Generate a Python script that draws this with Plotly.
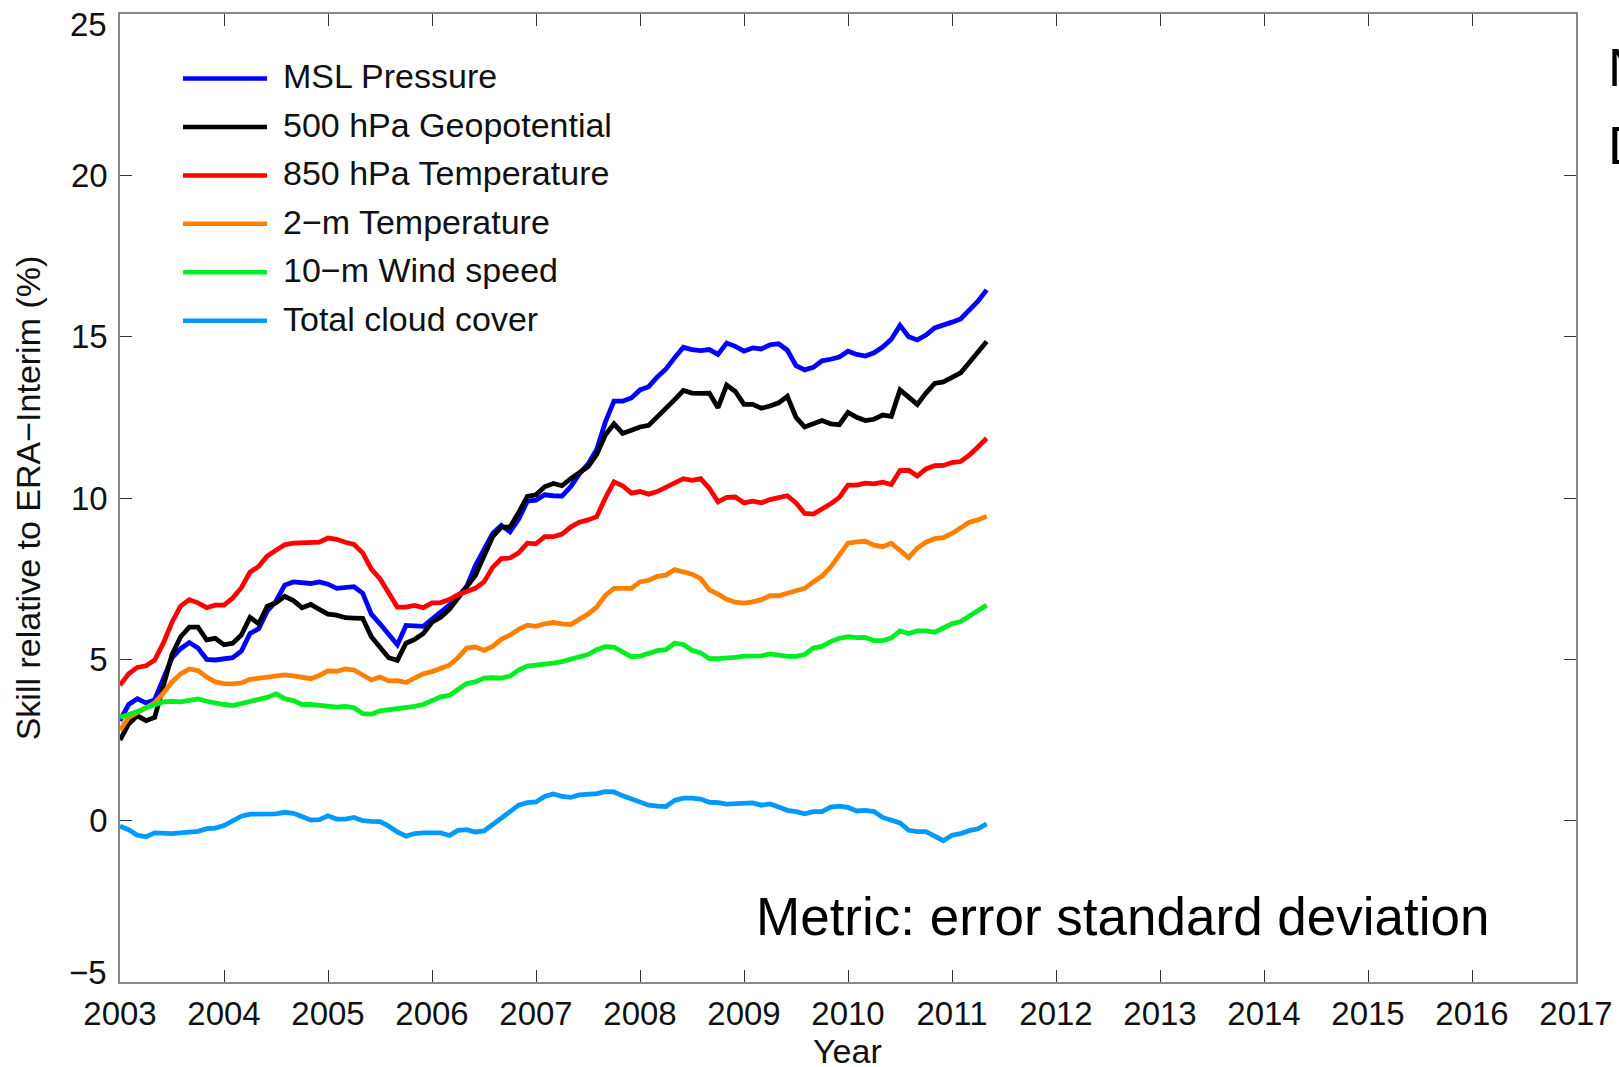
import plotly.graph_objects as go

# Monthly time axis: Jan 2003 onward, 101 months
start_year = 2003
n_months = 101
months = [start_year + i / 12 for i in range(n_months)]

series_names = [
    "MSL Pressure",
    "500 hPa Geopotential",
    "850 hPa Temperature",
    "2\u2212m Temperature",
    "10\u2212m Wind speed",
    "Total cloud cover",
]
series_colors = ["#0000ff", "#000000", "#ff0000", "#ff8000", "#00ee22", "#0099ff"]

msl_pressure = [
    3.1, 3.6, 3.78, 3.65, 3.75, 4.4, 5.05, 5.33, 5.52, 5.35, 5.0, 4.98, 5.0, 5.05, 5.25, 5.8, 5.95, 6.5, 6.8, 7.3, 7.4,
    7.37, 7.35, 7.4, 7.33, 7.2, 7.22, 7.25, 7.05, 6.4, 6.1, 5.8, 5.45, 6.05, 6.05, 6.02, 6.25, 6.45, 6.68, 6.95, 7.25,
    7.9, 8.4, 8.9, 9.15, 8.95, 9.35, 9.9, 9.93, 10.1, 10.07, 10.06, 10.35, 10.75, 11.05, 11.5, 12.35, 13.0, 13.0, 13.1, 13.35,
    13.45, 13.75, 14.0, 14.35, 14.67, 14.6, 14.57, 14.6, 14.45, 14.8, 14.7, 14.55, 14.65, 14.62, 14.75, 14.78, 14.58, 14.1, 13.97, 14.05,
    14.25, 14.3, 14.37, 14.55, 14.45, 14.4, 14.5, 14.68, 14.92, 15.35, 15.0, 14.9, 15.05, 15.27, 15.35, 15.45, 15.55, 15.8, 16.1, 16.45,
]
geopotential_500 = [
    2.5, 3.0, 3.25, 3.1, 3.2, 4.2, 5.15, 5.7, 6.0, 6.0, 5.6, 5.65, 5.45, 5.5, 5.75, 6.3, 6.1, 6.65, 6.75, 6.95, 6.82,
    6.6, 6.7, 6.55, 6.4, 6.37, 6.29, 6.28, 6.27, 5.7, 5.38, 5.05, 4.97, 5.5, 5.62, 5.8, 6.15, 6.3, 6.55, 6.9, 7.2,
    7.6, 8.2, 8.8, 9.1, 9.1, 9.55, 10.05, 10.1, 10.35, 10.45, 10.38, 10.6, 10.78, 10.97, 11.35, 11.95, 12.3, 12.0, 12.1, 12.2,
    12.25, 12.5, 12.8, 13.05, 13.33, 13.25, 13.24, 13.25, 12.8, 13.5, 13.3, 12.9, 12.9, 12.78, 12.85, 12.95, 13.15, 12.5, 12.2, 12.3,
    12.4, 12.3, 12.27, 12.65, 12.5, 12.4, 12.44, 12.57, 12.53, 13.35, 13.1, 12.9, 13.25, 13.55, 13.6, 13.75, 13.88, 14.2, 14.5, 14.85,
]
temperature_850 = [
    4.2, 4.55, 4.75, 4.8, 4.98, 5.5, 6.15, 6.65, 6.85, 6.75, 6.6, 6.68, 6.68, 6.9, 7.22, 7.7, 7.88, 8.2, 8.38, 8.55, 8.6,
    8.6, 8.6, 8.63, 8.76, 8.72, 8.63, 8.56, 8.3, 7.8, 7.5, 7.05, 6.62, 6.62, 6.67, 6.6, 6.75, 6.76, 6.85, 7.0, 7.1,
    7.2, 7.4, 7.85, 8.12, 8.14, 8.3, 8.6, 8.58, 8.8, 8.8, 8.88, 9.1, 9.25, 9.32, 9.42, 10.0, 10.5, 10.38, 10.15, 10.2,
    10.12, 10.2, 10.32, 10.45, 10.6, 10.55, 10.6, 10.3, 9.88, 10.02, 10.03, 9.85, 9.9, 9.85, 9.95, 10.01, 10.07, 9.85, 9.52, 9.5,
    9.65, 9.82, 10.02, 10.4, 10.4, 10.46, 10.44, 10.49, 10.42, 10.85, 10.86, 10.68, 10.9, 11.0, 11.01, 11.1, 11.13, 11.33, 11.58, 11.85,
]
temperature_2m = [
    2.8, 3.2, 3.35, 3.5, 3.65, 3.95, 4.3, 4.55, 4.7, 4.65, 4.45, 4.3, 4.25, 4.24, 4.27, 4.38, 4.42, 4.46, 4.5, 4.52, 4.49,
    4.45, 4.4, 4.5, 4.64, 4.63, 4.7, 4.67, 4.5, 4.36, 4.45, 4.33, 4.34, 4.28, 4.42, 4.55, 4.62, 4.72, 4.82, 5.05, 5.35,
    5.38, 5.28, 5.4, 5.62, 5.75, 5.93, 6.06, 6.02, 6.1, 6.14, 6.1, 6.08, 6.24, 6.4, 6.62, 6.98, 7.2, 7.2, 7.2, 7.4,
    7.45, 7.57, 7.61, 7.78, 7.72, 7.64, 7.5, 7.15, 7.02, 6.86, 6.77, 6.74, 6.78, 6.85, 6.97, 6.97, 7.05, 7.14, 7.2, 7.4,
    7.58, 7.86, 8.22, 8.6, 8.64, 8.66, 8.54, 8.49, 8.6, 8.35, 8.15, 8.45, 8.63, 8.74, 8.77, 8.9, 9.08, 9.25, 9.32, 9.43,
]
wind_speed_10m = [
    3.2, 3.28, 3.38, 3.5, 3.6, 3.68, 3.7, 3.68, 3.73, 3.77, 3.7, 3.64, 3.6, 3.57, 3.63, 3.67, 3.76, 3.82, 3.93, 3.78, 3.72,
    3.6, 3.6, 3.58, 3.55, 3.52, 3.54, 3.5, 3.32, 3.3, 3.4, 3.43, 3.45, 3.5, 3.54, 3.6, 3.72, 3.84, 3.88, 4.05, 4.25,
    4.3, 4.42, 4.43, 4.42, 4.48, 4.67, 4.79, 4.81, 4.86, 4.88, 4.93, 5.0, 5.07, 5.15, 5.3, 5.39, 5.38, 5.25, 5.08, 5.1,
    5.2, 5.27, 5.3, 5.5, 5.46, 5.28, 5.2, 5.02, 5.02, 5.03, 5.06, 5.1, 5.09, 5.11, 5.17, 5.12, 5.09, 5.09, 5.15, 5.35,
    5.4, 5.55, 5.65, 5.7, 5.67, 5.68, 5.58, 5.58, 5.66, 5.88, 5.8, 5.88, 5.88, 5.84, 5.98, 6.1, 6.17, 6.33, 6.5, 6.68,
]
total_cloud_cover = [
    -0.17, -0.28, -0.45, -0.5, -0.38, -0.4, -0.4, -0.38, -0.36, -0.33, -0.25, -0.23, -0.15, -0.02, 0.14, 0.2, 0.21, 0.22, 0.21, 0.26, 0.23,
    0.13, 0.02, 0.03, 0.15, 0.05, 0.05, 0.1, 0.0, -0.02, -0.03, -0.17, -0.35, -0.48, -0.4, -0.38, -0.39, -0.38, -0.46, -0.3, -0.28,
    -0.35, -0.32, -0.12, 0.08, 0.3, 0.48, 0.56, 0.58, 0.75, 0.83, 0.75, 0.72, 0.8, 0.81, 0.84, 0.9, 0.89, 0.77, 0.67, 0.57,
    0.48, 0.45, 0.44, 0.63, 0.7, 0.7, 0.67, 0.57, 0.56, 0.51, 0.52, 0.53, 0.55, 0.48, 0.52, 0.42, 0.32, 0.28, 0.21, 0.28,
    0.28, 0.42, 0.45, 0.41, 0.3, 0.32, 0.28, 0.1, 0.03, -0.07, -0.3, -0.34, -0.34, -0.5, -0.62, -0.45, -0.4, -0.31, -0.25, -0.1,
]

all_series = [msl_pressure, geopotential_500, temperature_850,
              temperature_2m, wind_speed_10m, total_cloud_cover]

year_ticks = list(range(2003, 2018))
skill_ticks = [-5, 0, 5, 10, 15, 20, 25]
skill_labels = ["\u22125", "0", "5", "10", "15", "20", "25"]

FONT = "Liberation Sans, Arial, Helvetica, sans-serif"
W, H = 1619, 1067
ML, MR, MT, MB = 120, 43, 14, 85
PW, PH = W - ML - MR, H - MT - MB


def px_x(x):
    return (x - ML) / PW


def px_y(y):
    return 1 - (y - MT) / PH


fig = go.Figure()
for name, color, values in zip(series_names, series_colors, all_series):
    fig.add_trace(go.Scatter(
        x=months, y=values, mode="lines", name=name,
        line=dict(color=color, width=4.8), showlegend=False,
    ))

# Legend drawn as line samples plus labels in the upper-left corner
shapes = []
annotations = []
for i, (name, color) in enumerate(zip(series_names, series_colors)):
    yrow = 78.5 + 48.45 * i
    shapes.append(dict(type="line", xref="paper", yref="paper",
                       x0=px_x(183), x1=px_x(267), y0=px_y(yrow), y1=px_y(yrow),
                       line=dict(color=color, width=4.5)))
    annotations.append(dict(text=name, xref="paper", yref="paper",
                            x=px_x(281), y=px_y(yrow - 2), xanchor="left", yanchor="middle",
                            showarrow=False, font=dict(size=34, color="#111", family=FONT)))

# End-of-range y labels are nudged inward so they stay inside the frame height
tick_font = dict(size=33, color="#111", family=FONT)
annotations.append(dict(text=skill_labels[-1], xref="paper", yref="paper",
                        x=px_x(109), y=px_y(24), xanchor="right", yanchor="middle",
                        showarrow=False, font=tick_font))
annotations.append(dict(text=skill_labels[0], xref="paper", yref="paper",
                        x=px_x(109), y=px_y(972), xanchor="right", yanchor="middle",
                        showarrow=False, font=tick_font))

annotations.append(dict(text="Year", xref="paper", yref="paper",
                        x=px_x(847), y=px_y(1051), xanchor="center", yanchor="middle",
                        showarrow=False, font=dict(size=34, color="#111", family=FONT)))

annotations.append(dict(text="Metric: error standard deviation", xref="paper", yref="paper",
                        x=px_x(754), y=px_y(916), xanchor="left", yanchor="middle",
                        showarrow=False, font=dict(size=53, color="#000", family=FONT)))
# Side labels running off the right edge of the page
annotations.append(dict(text="N", xref="paper", yref="paper",
                        x=px_x(1606), y=px_y(68), xanchor="left", yanchor="middle",
                        showarrow=False, font=dict(size=53, color="#000", family=FONT)))
annotations.append(dict(text="D", xref="paper", yref="paper",
                        x=px_x(1606), y=px_y(145), xanchor="left", yanchor="middle",
                        showarrow=False, font=dict(size=53, color="#000", family=FONT)))

axis_common = dict(
    showline=True, linecolor="#888888", linewidth=1.5, mirror="ticks",
    ticks="inside", ticklen=12, tickwidth=1.2, tickcolor="#333333",
    showgrid=False, zeroline=False, automargin=False,
    tickfont=tick_font,
)

fig.update_xaxes(range=[2003, 2017], tickvals=year_ticks, ticklabelstandoff=2,
                 ticklabeloverflow="allow", **axis_common)
fig.update_yaxes(range=[-5, 25], tickvals=skill_ticks,
                 ticktext=[""] + skill_labels[1:-1] + [""],
                 ticklabelstandoff=4,
                 title=dict(text="Skill relative to ERA\u2212Interim (%)",
                            font=dict(size=34, color="#111", family=FONT), standoff=20),
                 **axis_common)

fig.update_layout(
    width=W, height=H,
    margin=dict(l=ML, r=MR, t=MT, b=MB, autoexpand=False),
    paper_bgcolor="white", plot_bgcolor="white",
    font=dict(family=FONT, size=34, color="#111"),
    shapes=shapes, annotations=annotations,
    showlegend=False,
)

fig.write_html("out.html")
